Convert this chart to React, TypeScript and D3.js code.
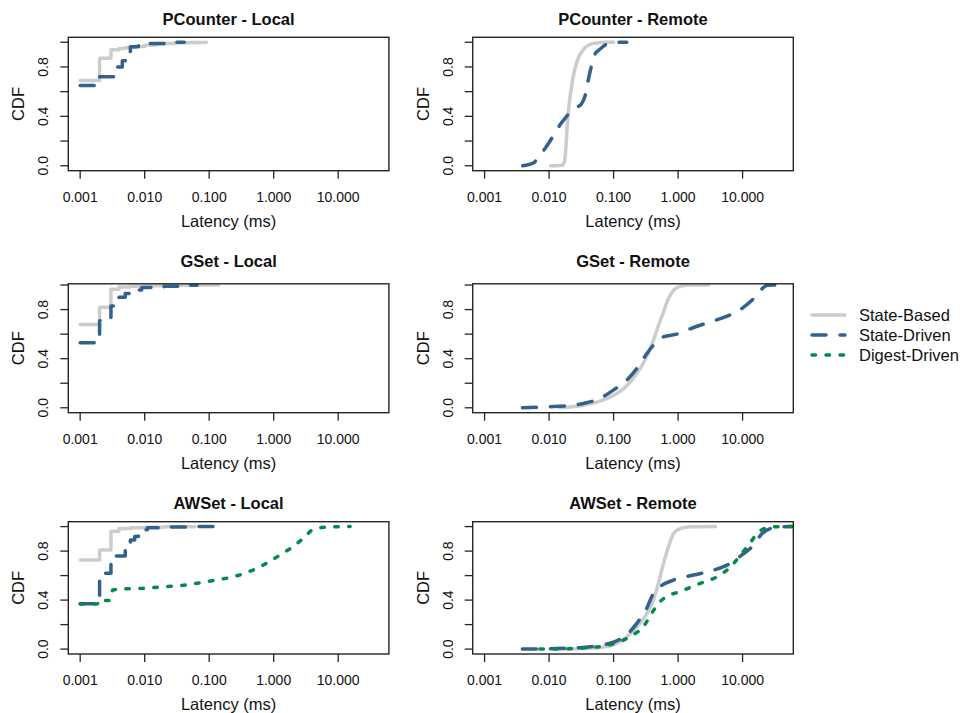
import React from "react";
import * as d3 from "d3";

// ---- data (latency in ms, CDF) ----
const pcLocalBased: [number, number][] = [[0.001,0.69],[0.002,0.87],[0.003,0.94],[0.004,0.95],[0.005,0.955],[0.007,0.965],[0.01,0.975],[0.015,0.985],[0.02,0.99],[0.03,0.995],[0.05,0.998],[0.09,1.0]];
const pcLocalDriven: [number, number][] = [[0.001,0.65],[0.002,0.72],[0.0033,0.80],[0.0045,0.85],[0.005,0.925],[0.006,0.963],[0.008,0.98],[0.01,0.99],[0.02,0.997],[0.027,1.0],[0.041,1.0]];

const pcRemoteBased: [number, number][] = [[0.0105,0],[0.016,0.005],[0.017,0.02],[0.0178,0.08],[0.0185,0.2],[0.019,0.3],[0.0198,0.42],[0.021,0.55],[0.0225,0.65],[0.0236,0.72],[0.026,0.81],[0.0282,0.87],[0.032,0.92],[0.0359,0.955],[0.042,0.98],[0.0483,0.99],[0.06,0.997],[0.078,1.0],[0.1,1.0]];
const pcRemoteDriven: [number, number][] = [[0.0039,0],[0.0056,0.02],[0.0072,0.085],[0.0091,0.155],[0.0115,0.24],[0.0147,0.33],[0.0187,0.40],[0.021,0.43],[0.026,0.47],[0.0317,0.5],[0.0359,0.56],[0.040,0.68],[0.0455,0.81],[0.051,0.9],[0.062,0.945],[0.078,0.985],[0.1,1.0],[0.16,1.0]];

const gsLocalBased: [number, number][] = [[0.001,0.678],[0.002,0.82],[0.003,0.965],[0.004,0.984],[0.006,0.99],[0.01,0.995],[0.03,0.998],[0.06,1.0],[0.14,1.0]];
const gsLocalDriven: [number, number][] = [[0.001,0.53],[0.002,0.71],[0.003,0.83],[0.004,0.9],[0.005,0.93],[0.006,0.96],[0.009,0.98],[0.02,0.99],[0.04,0.998],[0.065,1.0]];

const gsRemoteBased: [number, number][] = [[0.0147,0],[0.0338,0.02],[0.0614,0.054],[0.099,0.10],[0.16,0.18],[0.229,0.28],[0.308,0.39],[0.415,0.55],[0.496,0.67],[0.593,0.78],[0.71,0.89],[0.85,0.957],[1.08,0.99],[1.6,1.0],[2.97,1.0]];
const gsRemoteDriven: [number, number][] = [[0.00386,0],[0.0103,0.008],[0.0187,0.016],[0.0338,0.035],[0.0614,0.076],[0.099,0.144],[0.16,0.225],[0.229,0.32],[0.327,0.44],[0.415,0.51],[0.593,0.578],[0.957,0.6],[1.74,0.654],[3.16,0.70],[5.74,0.746],[10.4,0.82],[14.9,0.89],[20.1,0.97],[24,0.998],[43.6,1.0]];

const awLocalBased: [number, number][] = [[0.001,0.727],[0.002,0.81],[0.003,0.963],[0.004,0.984],[0.006,0.99],[0.01,0.995],[0.02,0.999],[0.06,1.0]];
const awLocalDriven: [number, number][] = [[0.001,0.37],[0.002,0.62],[0.003,0.76],[0.005,0.82],[0.006,0.89],[0.007,0.92],[0.008,0.95],[0.009,0.975],[0.011,0.99],[0.02,0.997],[0.05,1.0],[0.154,1.0]];
const awLocalDigest: [number, number][] = [[0.001,0.369],[0.0018,0.369],[0.002,0.375],[0.002,0.396],[0.0028,0.396],[0.003,0.45],[0.0032,0.483],[0.00405,0.49],[0.0093,0.496],[0.0215,0.51],[0.044,0.523],[0.09,0.55],[0.185,0.578],[0.297,0.605],[0.479,0.645],[0.773,0.70],[1.245,0.767],[2.0,0.835],[2.87,0.903],[3.87,0.971],[5.53,0.993],[8.4,0.998],[15.3,1.0]];

const awRemoteBased: [number, number][] = [[0.015,0],[0.0614,0.014],[0.099,0.035],[0.16,0.10],[0.229,0.18],[0.327,0.29],[0.415,0.40],[0.496,0.537],[0.593,0.70],[0.71,0.835],[0.85,0.944],[1.08,0.984],[1.6,0.998],[3.78,1.0]];
const awRemoteDriven: [number, number][] = [[0.00386,0],[0.0103,0.003],[0.0338,0.014],[0.0614,0.03],[0.099,0.057],[0.16,0.117],[0.229,0.21],[0.327,0.334],[0.415,0.456],[0.527,0.51],[0.85,0.564],[1.74,0.605],[3.56,0.645],[6.46,0.70],[10.4,0.78],[14.9,0.85],[20.1,0.944],[27,0.984],[38.7,0.998],[59,1.0]];
const awRemoteDigest: [number, number][] = [[0.0072,0],[0.0187,0.003],[0.038,0.011],[0.078,0.03],[0.126,0.062],[0.202,0.117],[0.29,0.184],[0.39,0.293],[0.527,0.388],[0.67,0.43],[1.08,0.47],[2.2,0.537],[4.0,0.59],[6.46,0.67],[9.25,0.767],[12.4,0.85],[17.8,0.957],[24,0.99],[38.7,1.0],[70,1.0]];

const xTicks = [0.001, 0.01, 0.1, 1, 10];
const xTickLabels = ["0.001", "0.010", "0.100", "1.000", "10.000"];
const yTicks = [0, 0.2, 0.4, 0.6, 0.8, 1.0];
const yTickLabels = ["0.0", "", "0.4", "", "0.8", ""];
const seriesNames = ["State-Based", "State-Driven", "Digest-Driven"];

// ---- styles ----
const FONT = "'Liberation Sans', Arial, Helvetica, sans-serif";
const styles = [
  { color: "#cccccc", dash: null as string | null },
  { color: "#33618e", dash: "14,14" },
  { color: "#05894a", dash: "3.5,10.5" },
];

type Panel = {
  title: string; row: number; col: number; step: boolean;
  series: ([number, number][] | null)[]; digestStep?: boolean;
};
const panels: Panel[] = [
  { title: "PCounter - Local", row: 0, col: 0, step: true, series: [pcLocalBased, pcLocalDriven, null] },
  { title: "PCounter - Remote", row: 0, col: 1, step: false, series: [pcRemoteBased, pcRemoteDriven, null] },
  { title: "GSet - Local", row: 1, col: 0, step: true, series: [gsLocalBased, gsLocalDriven, null] },
  { title: "GSet - Remote", row: 1, col: 1, step: false, series: [gsRemoteBased, gsRemoteDriven, null] },
  { title: "AWSet - Local", row: 2, col: 0, step: true, series: [awLocalBased, awLocalDriven, awLocalDigest] },
  { title: "AWSet - Remote", row: 2, col: 1, step: false, series: [awRemoteBased, awRemoteDriven, awRemoteDigest] },
];

const colLeft = [68.3, 472.7];
const boxW = 320.6;
const rowTop = [37.3, 283.8, 521.7];
const rowBottom = [170.7, 412.7, 654];
const rowYDomain: [number, number][] = [[-0.04, 1.04], [-0.04, 1.01], [-0.04, 1.04]];
const titleY = [19.3, 260.7, 502.7];

const xLo = Math.pow(10, -3 - 0.04 * (Math.log10(40) + 3));
const xHi = Math.pow(10, Math.log10(40) + 0.04 * (Math.log10(40) + 3));

function PanelView({ p }: { p: Panel }) {
  const L = colLeft[p.col], R = L + boxW, T = rowTop[p.row], B = rowBottom[p.row];
  const x = d3.scaleLog().domain([xLo, xHi]).range([L, R]);
  const y = d3.scaleLinear().domain(rowYDomain[p.row]).range([B, T]);
  const clipId = `clip-${p.row}-${p.col}`;
  const mk = (i: number) =>
    d3.line<[number, number]>()
      .x(d => x(d[0]))
      .y(d => y(d[1]))
      .curve(p.step && i < 2 ? d3.curveStepAfter : p.step ? d3.curveLinear : d3.curveMonotoneX);
  const cx = (L + R) / 2;
  return (
    <g>
      <defs>
        <clipPath id={clipId}><rect x={L} y={T} width={R - L} height={B - T} /></clipPath>
      </defs>
      <g clipPath={`url(#${clipId})`}>
        {p.series.map((s, i) => s ? (
          <path key={i} d={mk(i)(s) || ""} fill="none" stroke={styles[i].color} strokeWidth={3.5}
            strokeDasharray={styles[i].dash || undefined} strokeLinecap="round" strokeLinejoin="round" />
        ) : null)}
      </g>
      <rect x={L} y={T} width={R - L} height={B - T} fill="none" stroke="#262626" strokeWidth={1.4} />
      {/* x axis */}
      {xTicks.map((t, i) => (
        <g key={i}>
          <line x1={x(t)} x2={x(t)} y1={B} y2={B + 8} stroke="#262626" strokeWidth={1.3} />
          <text x={x(t)} y={B + 26} textAnchor="middle" dominantBaseline="central" fontSize={14} fontFamily={FONT} fill="#111">{xTickLabels[i]}</text>
        </g>
      ))}
      {/* y axis */}
      {yTicks.map((t, i) => (
        <g key={i}>
          <line x1={L - 8} x2={L} y1={y(t)} y2={y(t)} stroke="#262626" strokeWidth={1.3} />
          {yTickLabels[i] ? (
            <text transform={`translate(${L - 25},${y(t)}) rotate(-90)`} textAnchor="middle" dominantBaseline="central" fontSize={14} fontFamily={FONT} fill="#111">{yTickLabels[i]}</text>
          ) : null}
        </g>
      ))}
      <text x={cx} y={B + 50} textAnchor="middle" dominantBaseline="central" fontSize={16.5} fontFamily={FONT} fill="#111">Latency (ms)</text>
      <text transform={`translate(${L - 50},${(T + B) / 2}) rotate(-90)`} textAnchor="middle" dominantBaseline="central" fontSize={16.5} fontFamily={FONT} fill="#111">CDF</text>
      <text x={cx} y={titleY[p.row]} textAnchor="middle" dominantBaseline="central" fontSize={16.5} fontWeight="bold" fontFamily={FONT} fill="#111">{p.title}</text>
    </g>
  );
}

export default function App() {
  const legendY = [315, 335, 355];
  return (
    <svg width={963} height={713} style={{ position: "absolute", left: 0, top: 0, background: "#fff" }}>
      <rect x={0} y={0} width={963} height={713} fill="#fff" />
      {panels.map((p, i) => <PanelView key={i} p={p} />)}
      <g>
        {seriesNames.map((n, i) => (
          <g key={n}>
            <line x1={812} x2={845} y1={legendY[i]} y2={legendY[i]} stroke={styles[i].color} strokeWidth={3.5}
              strokeDasharray={styles[i].dash || undefined} strokeLinecap="round" />
            <text x={859} y={legendY[i]} dominantBaseline="central" fontSize={16.5} fontFamily={FONT} fill="#111">{n}</text>
          </g>
        ))}
      </g>
    </svg>
  );
}
